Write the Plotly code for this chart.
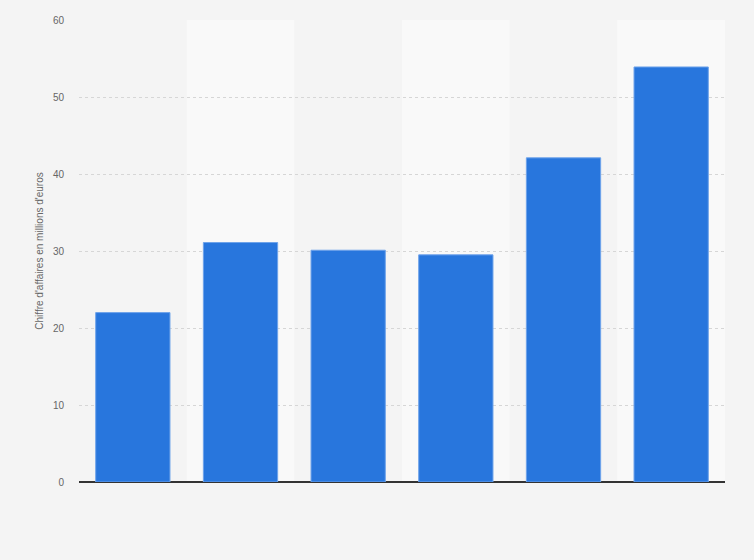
import plotly.graph_objects as go

# Données
categories = ["1", "2", "3", "4", "5", "6"]
valeurs = [22.0, 31.1, 30.1, 29.5, 42.1, 53.9]
ticks_y = [0, 10, 20, 30, 40, 50, 60]

fig = go.Figure()

fig.add_trace(go.Bar(
    x=list(range(len(categories))),
    y=valeurs,
    marker=dict(color="#2876dd", line=dict(color="#6ea3ea", width=1)),
    hoverinfo="y",
))

# bandes claires une colonne sur deux
for i in range(1, len(categories), 2):
    fig.add_shape(type="rect", xref="x", yref="paper",
                  x0=i - 0.5, x1=i + 0.5, y0=0, y1=1,
                  fillcolor="#f9f9f9", line=dict(width=0), layer="below")

fig.update_layout(
    width=754, height=560,
    margin=dict(l=79, r=29, t=20, b=78),
    paper_bgcolor="#f4f4f4",
    plot_bgcolor="#f4f4f4",
    bargap=0.31,
    showlegend=False,
    font=dict(family="Liberation Sans, Arial, sans-serif", color="#666666"),
)

fig.update_xaxes(
    range=[-0.5, len(categories) - 0.5],
    showticklabels=False, showgrid=False, zeroline=False,
    showline=False,
)

fig.update_yaxes(
    range=[0, 60],
    tickvals=ticks_y,
    tickfont=dict(size=10, color="#666666"),
    showgrid=True, gridcolor="#d6d6d6", griddash="dot", gridwidth=1,
    zeroline=True, zerolinecolor="#333333", zerolinewidth=1.5,
    ticks="", ticklabelstandoff=14,
    title=dict(text="Chiffre d'affaires en millions d'euros",
               font=dict(size=10, color="#666666"), standoff=7),
)

# enlever la marge blanche de la page
fig.write_html("out.html",
               config={"displayModeBar": False},
               post_script="document.body.style.margin='0';"
                           "document.body.style.background='#f4f4f4';")
